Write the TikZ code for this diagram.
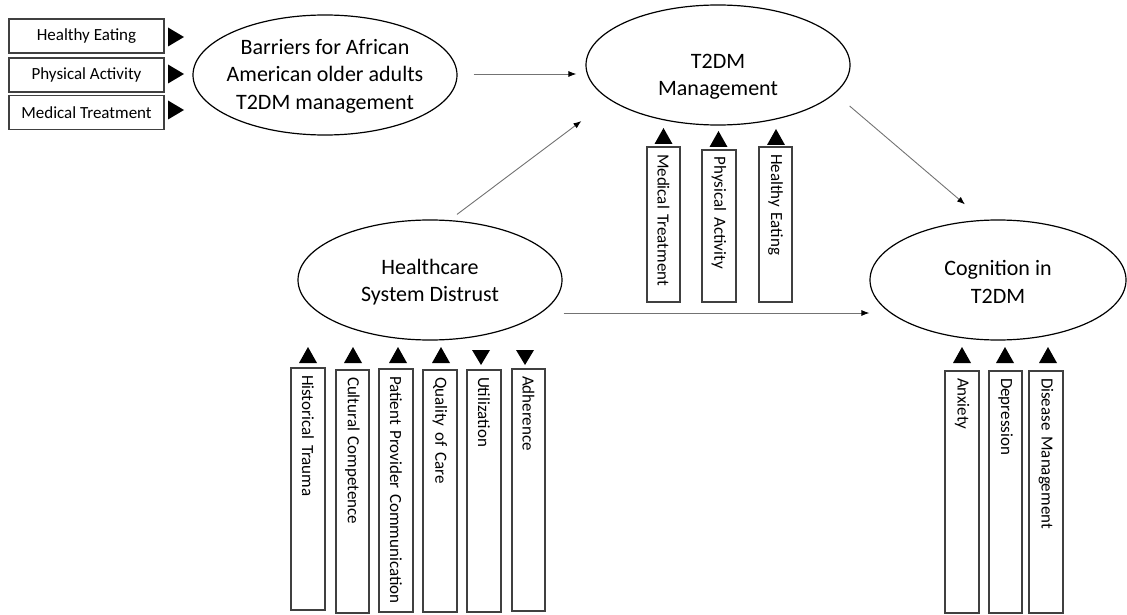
\documentclass[tikz,border=0pt]{standalone}
\usepackage{fontspec}
\setmainfont{Carlito}
\usetikzlibrary{shapes.geometric,arrows.meta,calc}
\newcommand\uptri[2]{\fill[black] (#1-9,#2+16) -- (#1+9,#2+16) -- (#1,#2) -- cycle;}
\newcommand\dntri[2]{\fill[black] (#1-9,#2) -- (#1+9,#2) -- (#1,#2+15) -- cycle;}
\newcommand\rttri[2]{\fill[black] (#1,#2-9.5) -- (#1,#2+9.5) -- (#1+16,#2) -- cycle;}
\begin{document}
\begin{tikzpicture}[x=1pt,y=-1pt,
 oval/.style={ellipse,draw=black,line width=1.2pt,minimum width=264pt,minimum height=120pt,inner sep=0pt},
 ovaltext/.style={inner sep=0pt,align=center,font=\fontsize{22}{27.5}\selectfont},
 hbox/.style={draw=black!75,line width=1.3pt,minimum width=155pt,minimum height=34pt,inner sep=0pt,font=\fontsize{17}{20}\selectfont},
 vbox/.style={draw=black!75,line width=1.3pt,rotate=-90,inner xsep=7pt,inner ysep=0pt,align=left,font=\fontsize{17}{20}\selectfont},
 link/.style={draw=black!55,line width=0.9pt,-{Latex[length=8pt,width=6pt,color=black]}}]
\useasboundingbox (0,0) rectangle (1127,615);

% left boxes
\node[hbox] (lhe) at (86.5,36) {Healthy Eating};
\node[hbox] (lpa) at (86.5,75) {Physical Activity};
\node[hbox] (lmt) at (86.5,112.5) {Medical Treatment};
\rttri{168}{37}
\rttri{168}{74}
\rttri{168}{110}

% ellipses
\node[oval] (bar) at (325,75) {};
\node[ovaltext] (bart) at (325,76) {Barriers for African\\American older adults\\T2DM management};
\node[oval] (t2) at (718,65) {};
\node[ovaltext] (t2t) at (718,77) {T2DM\\Management};
\node[oval] (hc) at (430,280) {};
\node[ovaltext] (hct) at (430,282) {Healthcare\\System Distrust};
\node[oval,minimum width=256pt] (cog) at (998,280) {};
\node[ovaltext] (cogt) at (998,282) {Cognition in\\T2DM};

% connectors
\draw[link] ($(bar.east)+(16,-1)$) -- ($(t2.west)+(-9,9)$);
\draw[link] ($(hc.north)+(27,-5)$) -- ($(t2.west)+(-4,56)$);
\draw[link] ($(t2.east)+(-1,41)$) -- ($(cog.north)+(-33,-15)$);
\draw[link] ($(hc.east)+(1,33)$) -- ($(cog.west)+(0,33)$);

% T2DM boxes
\node[vbox,minimum width=155pt,text width=141pt,minimum height=33pt] (mt) at (663.5,224.5) {Medical Treatment};
\node[vbox,minimum width=152pt,text width=138pt,minimum height=34pt] (pa) at (719,226) {Physical Activity};
\node[vbox,minimum width=155pt,text width=141pt,minimum height=33pt] (he) at (775.5,224.5) {Healthy Eating};
\uptri{663.5}{128}
\uptri{718.5}{131}
\uptri{776}{129}

% Healthcare boxes
\node[vbox,minimum width=242pt,text width=228pt,minimum height=34pt] (hist) at (308,489) {Historical Trauma};
\node[vbox,minimum width=243pt,text width=229pt,minimum height=33pt] (cult) at (352.5,491.5) {Cultural Competence};
\node[vbox,minimum width=243pt,text width=229pt,minimum height=34pt] (pat) at (396,490.5) {Patient Provider Communication};
\node[vbox,minimum width=242pt,text width=228pt,minimum height=34pt] (qual) at (440,491) {Quality of Care};
\node[vbox,minimum width=242pt,text width=228pt,minimum height=34pt] (util) at (484,491) {Utilization};
\node[vbox,minimum width=242pt,text width=228pt,minimum height=33pt] (adh) at (528.5,490) {Adherence};
\uptri{308}{347}
\uptri{353}{347}
\uptri{398}{347}
\uptri{441}{347}
\dntri{481}{350}
\dntri{525}{350}

% Cognition boxes
\node[vbox,minimum width=242pt,text width=228pt,minimum height=34pt] (anx) at (962,492) {Anxiety};
\node[vbox,minimum width=242pt,text width=228pt,minimum height=33pt] (dep) at (1005.5,492) {Depression};
\node[vbox,minimum width=242pt,text width=228pt,minimum height=34pt] (dis) at (1046,492) {Disease Management};
\uptri{962}{347}
\uptri{1005}{347}
\uptri{1048}{347}
\end{tikzpicture}
\end{document}
